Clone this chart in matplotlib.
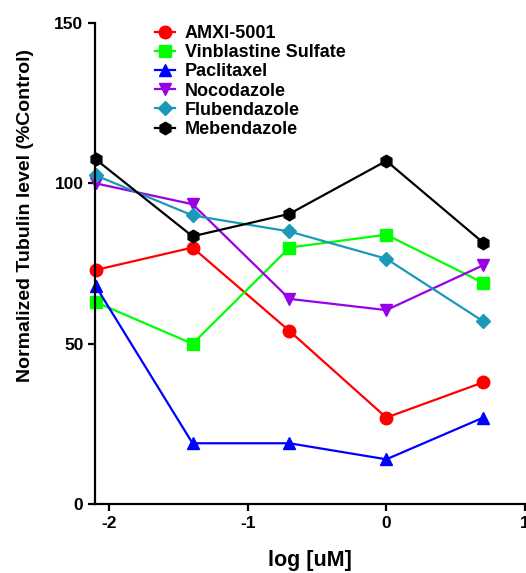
import matplotlib.pyplot as plt
import numpy as np

plt.rcParams['font.family'] = ['Liberation Sans', 'DejaVu Sans']
plt.rcParams['font.weight'] = 'bold'
plt.rcParams['axes.unicode_minus'] = False

# log10 of concentrations (5-fold dilutions: 0.008 .. 5 uM)
log_conc = np.log10([0.008, 0.04, 0.2, 1, 5])

amxi = [73, 80, 54, 27, 38]
vinblastine = [63, 50, 80, 84, 69]
paclitaxel = [68, 19, 19, 14, 27]
nocodazole = [100, 93.5, 64, 60.5, 74.5]
flubendazole = [102.5, 90, 85, 76.5, 57]
mebendazole = [107.5, 83.5, 90.5, 107, 81.5]

series = [
    ('AMXI-5001', amxi, '#FF0000', 'o'),
    ('Vinblastine Sulfate', vinblastine, '#00FF00', 's'),
    ('Paclitaxel', paclitaxel, '#0000FF', '^'),
    ('Nocodazole', nocodazole, '#9900E6', 'v'),
    ('Flubendazole', flubendazole, '#1A9AB8', 'D'),
    ('Mebendazole', mebendazole, '#000000', 'h'),
]

fig = plt.figure(figsize=(5.26, 5.73), dpi=100)
ax = fig.add_axes([0.181, 0.120, 0.817, 0.840])

for name, vals, col, mk in series:
    ms = 7 if mk == 'D' else 9
    ax.plot(log_conc, vals, color=col, marker=mk, markersize=ms, lw=1.6,
            label=name, clip_on=False)

ax.set_xlim(-2.1, 1)
ax.set_ylim(0, 150)
ax.set_xticks([-2, -1, 0, 1])
ax.set_yticks([0, 50, 100, 150])
ax.spines['top'].set_visible(False)
ax.spines['right'].set_visible(False)
ax.spines['left'].set_linewidth(1.6)
ax.spines['bottom'].set_linewidth(1.6)
ax.tick_params(direction='out', width=1.6, length=5, labelsize=12.5)
for lbl in ax.get_xticklabels() + ax.get_yticklabels():
    lbl.set_fontweight('bold')

ax.set_xlabel('log [uM]', fontsize=15.5, fontweight='bold', labelpad=14)
ax.set_ylabel('Normalized Tubulin level (%Control)', fontsize=14,
              fontweight='bold')
ax.yaxis.set_label_coords(-0.143, 0.60)

ax.legend(loc='upper left', bbox_to_anchor=(0.277, 0.972), bbox_transform=fig.transFigure,
          frameon=False, prop={'size': 13, 'weight': 'bold'},
          handlelength=1.1, handletextpad=0.55, labelspacing=0.12, borderpad=0)

fig.savefig('out.png', dpi=100)
